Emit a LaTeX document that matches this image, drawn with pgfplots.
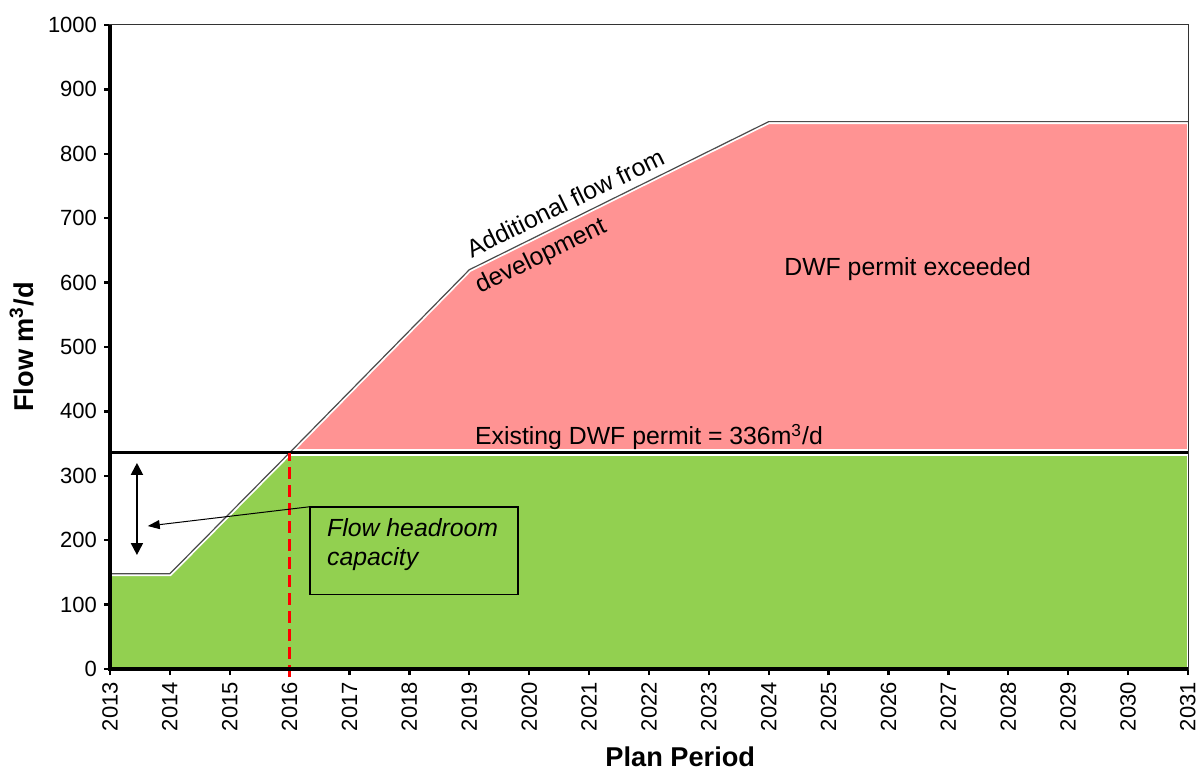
\documentclass[border=0pt]{standalone}
\usepackage{pgfplots}
\pgfplotsset{compat=1.18}
\usepackage{fontspec}
\setmainfont{Liberation Sans}
\usetikzlibrary{arrows.meta}
\definecolor{pgreen}{RGB}{146,208,80}
\definecolor{pred}{RGB}{255,147,147}
\begin{document}
\begin{tikzpicture}
\begin{axis}[
 scale only axis, width=539pt, height=322pt,
 xmin=2013, xmax=2031, ymin=0, ymax=1000,
 xtick={2013,...,2031}, ytick={0,100,...,1000},
 xtick pos=bottom, ytick pos=left,
 tick align=outside, major tick length=3pt,
 every tick/.style={black, line width=1.2pt},
 axis line style={line width=0.5pt, black!80},
 /pgf/number format/assume math mode=true,
 /pgf/number format/1000 sep={},
 ticklabel style={font=\fontsize{11}{13}\selectfont},
 xticklabel style={rotate=90, anchor=east},
 xlabel={Plan Period}, ylabel={Flow m\textsuperscript{3}/d},
 label style={font=\fontsize{13.6}{16}\selectfont\bfseries},
 xlabel style={at={(axis description cs:0.529,-0.136)}, anchor=center},
 ylabel style={at={(axis description cs:-0.082,0.5)}, anchor=center},
 clip=false
]
\coordinate (bl) at (rel axis cs:0,0);
\coordinate (tr) at (rel axis cs:1,1);
% areas
\addplot[fill=pgreen, draw=none] coordinates {(2013,0) (2013,148) (2014,148) (2016,336) (2031,336) (2031,0)} -- cycle;
\addplot[fill=pred, draw=none] coordinates {(2016,336) (2019,620) (2024,850) (2031,850) (2031,336)} -- cycle;
% white halos
\addplot[white, line width=2.4pt] coordinates {(2013,148) (2014,148) (2016,336) (2019,620) (2024,850) (2031,850)};
\addplot[white, line width=1.4pt] coordinates {(2031,0) (2031,850)};
\addplot[white, line width=3.6pt] coordinates {(2013,336) (2031,336)};
% flow line
\addplot[black!70, line width=0.6pt] coordinates {(2013,148) (2014,148) (2016,336) (2019,620) (2024,850) (2031,850)};
% permit line
\addplot[black, line width=1.6pt] coordinates {(2013,336) (2031,336)};
% 2016 marker
\addplot[red, line width=1.5pt, dash pattern=on 6pt off 3pt] coordinates {(2016,-12) (2016,336)};
% axis frame
\draw[black!80, line width=0.5pt] (rel axis cs:0,1) -- (rel axis cs:1,1) -- (rel axis cs:1,0);
\draw[black, line width=1.6pt] (rel axis cs:0,1) -- (rel axis cs:0,0) -- (rel axis cs:1,0);
% annotations
\draw[{Triangle[length=6pt,width=6pt]}-{Triangle[length=6pt,width=6pt]}, line width=1pt] (axis cs:2013.45,320) -- (axis cs:2013.45,177);
\draw[line width=0.8pt] (axis cs:2016.34,116) rectangle (axis cs:2019.81,252);
\draw[-{Triangle[length=6pt,width=4.5pt]}, line width=0.5pt] (axis cs:2016.34,252) -- (axis cs:2013.63,222);
\node[anchor=north west, align=left, inner sep=0pt, font=\fontsize{12.4}{14.5}\selectfont\itshape] at (axis cs:2016.62,234) {Flow headroom\\capacity};
\node[anchor=base, font=\fontsize{12.4}{14}\selectfont] at (axis cs:2022.0,348) {Existing DWF permit = 336m\textsuperscript{3}/d};
\node[font=\fontsize{12.4}{14}\selectfont] at (axis cs:2026.32,621) {DWF permit exceeded};
\node[rotate=26, font=\fontsize{12.4}{14}\selectfont] at (axis cs:2020.6,724) {Additional flow from};
\node[rotate=26, font=\fontsize{12.4}{14}\selectfont] at (axis cs:2020.2,640) {development};
\end{axis}
\pgfresetboundingbox
\path ([shift={(-55pt,-51.5pt)}]bl) rectangle ([shift={(5pt,12.5pt)}]tr);
\end{tikzpicture}
\end{document}
